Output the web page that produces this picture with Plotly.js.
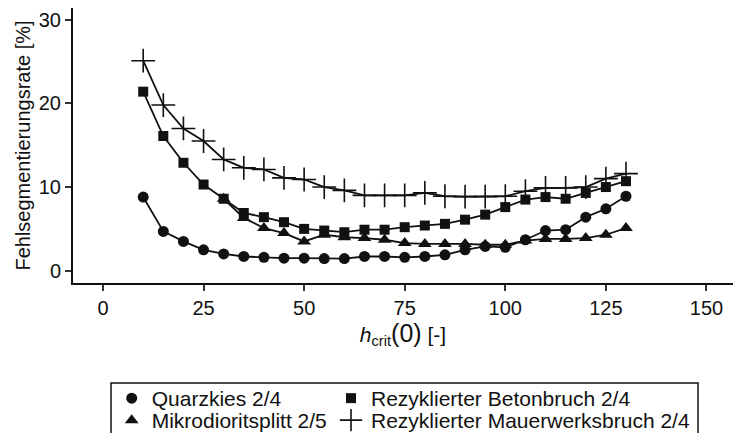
<!DOCTYPE html>
<html>
<head>
<meta charset="utf-8">
<script src="https://cdn.plot.ly/plotly-3.0.1.min.js"></script>
<style>
html,body{margin:0;padding:0;background:#fff;}
#chart{width:733px;height:433px;}
</style>
</head>
<body>
<div id="chart"></div>
<script>
// Data
const hcrit = [10,15,20,25,30,35,40,45,50,55,60,65,70,75,80,85,90,95,100,105,110,115,120,125,130];
const hcritMikro = [30,35,40,45,50,55,60,65,70,75,80,85,90,95,100,105,110,115,120,125,130];
const quarzkies = [8.8,4.7,3.5,2.5,2.0,1.7,1.6,1.5,1.5,1.45,1.45,1.7,1.7,1.6,1.7,1.9,2.5,2.9,2.8,3.7,4.8,4.9,6.4,7.4,8.9];
const betonbruch = [21.4,16.1,12.9,10.3,8.6,6.9,6.4,5.8,5.0,4.8,4.6,4.9,4.9,5.2,5.4,5.6,6.1,6.7,7.6,8.5,8.8,8.6,9.3,10.0,10.7];
const mikrodiorit = [8.6,6.3,5.1,4.5,3.5,4.3,4.0,3.9,3.7,3.3,3.2,3.2,3.2,3.1,3.1,3.6,3.8,3.8,3.9,4.3,5.1];
const mauerwerk = [25.1,19.8,17.0,15.5,13.3,12.3,12.1,11.1,10.9,10.0,9.6,9.0,9.0,9.0,9.3,8.9,8.85,8.85,8.9,9.5,9.9,9.9,10.0,11.0,11.6];
const names = ['Quarzkies 2/4','Rezyklierter Betonbruch 2/4','Mikrodioritsplitt 2/5','Rezyklierter Mauerwerksbruch 2/4'];
const xTicks = [0,25,50,75,100,125,150];
const yTicks = [0,10,20,30];

const black = '#111111';
const fontFam = 'Liberation Sans, Arial, sans-serif';

const markers = {
  circle: {symbol:'circle', size:11, color:black},
  square: {symbol:'square', size:10, color:black},
  tri: {symbol:'triangle-up', size:12, color:black},
  plus: {symbol:'cross-thin-open', size:17, color:black, line:{color:black, width:1.6}}
};

function dataTrace(x, y, m){
  return {x:x, y:y, type:'scatter', mode:'lines+markers', showlegend:false,
          line:{color:black, width:1.8}, marker:m, hoverinfo:'x+y'};
}
function legendTrace(name, m, lg){
  return {x:[null], y:[null], type:'scatter', mode:'markers', name:name, legend:lg,
          marker:Object.assign({}, m), showlegend:true};
}

const traces = [
  dataTrace(hcrit, quarzkies, markers.circle),
  dataTrace(hcrit, betonbruch, markers.square),
  dataTrace(hcritMikro, mikrodiorit, markers.tri),
  dataTrace(hcrit, mauerwerk, markers.plus),
  legendTrace(names[0], markers.circle, 'legend'),
  legendTrace(names[1], markers.square, 'legend2'),
  legendTrace(names[2], markers.tri, 'legend3'),
  legendTrace(names[3], markers.plus, 'legend4')
];

// plot area: x 73..733 px, y 8..283 px
const L = 73, W = 660, T = 8, H = 275;
const px = v => (v - L) / W;
const py = v => (T + H - v) / H;

function lg(xpx, ypx){
  return {x:px(xpx), y:py(ypx), xanchor:'left', yanchor:'top', xref:'paper', yref:'paper',
          bgcolor:'rgba(0,0,0,0)', borderwidth:0, orientation:'v',
          font:{family:fontFam, size:21, color:black}};
}

const layout = {
  width:733, height:433,
  margin:{l:L, r:0, t:T, b:433-T-H, pad:0, autoexpand:false},
  paper_bgcolor:'#ffffff', plot_bgcolor:'#ffffff',
  font:{family:fontFam, color:black},
  xaxis:{
    range:[-7.45, 156.6], tickvals:xTicks, ticktext:xTicks.map(String),
    showgrid:false, zeroline:false, showline:true, linecolor:black, linewidth:2,
    ticks:'outside', ticklen:6, tickwidth:2, tickcolor:'#333333',
    tickfont:{family:fontFam, size:20, color:black}, automargin:false,
    title:{text:'<i>h</i><sub>crit</sub><span style="font-size:25px">(0)</span> [-]', font:{family:fontFam, size:21, color:black}, standoff:6}
  },
  yaxis:{
    range:[-1.47, 31.4], tickvals:yTicks, ticktext:yTicks.map(String),
    showgrid:false, zeroline:false, showline:true, linecolor:black, linewidth:2,
    ticks:'outside', ticklen:6, tickwidth:2, tickcolor:'#333333',
    tickfont:{family:fontFam, size:20, color:black}, automargin:false,
    title:{text:'Fehlsegmentierungsrate [%]', font:{family:fontFam, size:20, color:black}, standoff:3}
  },
  legend: lg(111.7, 378),
  legend2: lg(331, 378),
  legend3: lg(111.7, 400),
  legend4: lg(331, 400),
  shapes:[{type:'rect', xref:'paper', yref:'paper',
           x0:px(111), x1:px(698), y0:py(383), y1:py(445),
           line:{color:black, width:1.5}, fillcolor:'rgba(0,0,0,0)'}]
};

Plotly.newPlot('chart', traces, layout, {displayModeBar:false, staticPlot:true});
</script>
</body>
</html>
